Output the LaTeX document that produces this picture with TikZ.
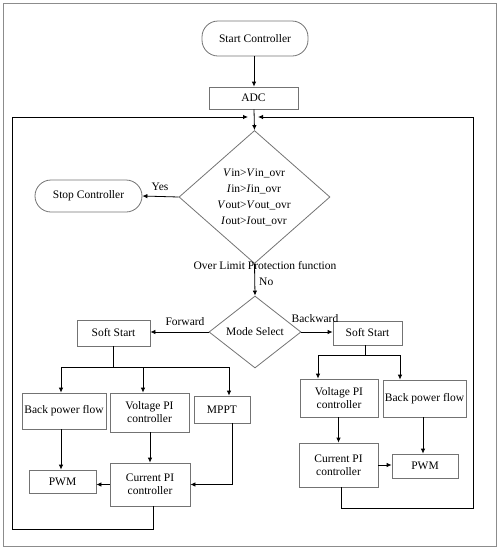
\documentclass[tikz,border=0pt]{standalone}
\usepackage{fontspec}
\setmainfont{Liberation Serif}
\usetikzlibrary{arrows.meta,shapes.geometric}
\begin{document}
\begin{tikzpicture}[x=1pt,y=-1pt,
 every node/.style={font=\fontsize{11.5}{13}\selectfont},
 box/.style={draw=black!55, line width=0.8pt, inner sep=1pt, align=center},
 term/.style={box, rounded corners=16pt},
 dia/.style={diamond, draw=black!55, line width=0.8pt, inner sep=0pt, align=center},
 arr/.style={-{Latex[length=5pt,width=4.5pt]}, line width=0.8pt},
 ln/.style={line width=0.8pt},
 lbl/.style={inner sep=0pt}]

\useasboundingbox (0,0) rectangle (499,550);
\draw[black!45, line width=1pt] (3,3) rectangle (496,546);

% top
\node[term, minimum width=106pt, minimum height=35pt] (start) at (255,38.5) {Start Controller};
\node[box, minimum width=89pt, minimum height=22pt] (adc) at (253.5,98) {ADC};
\node[dia, minimum width=151pt, minimum height=133pt] (prot) at (254.5,197) {};
\node[lbl, align=center, font=\fontsize{11.5}{16}\selectfont] (prottxt) at (254,197)
 {\textit{V}in>\textit{V}in\_ovr\\ \textit{I}in>\textit{I}in\_ovr\\ \textit{V}out>\textit{V}out\_ovr\\ \textit{I}out>\textit{I}out\_ovr};
\node[term, minimum width=107pt, minimum height=32pt] (stop) at (88.5,196) {Stop Controller};
\node[lbl] (yes) at (160,187) {Yes};
\node[lbl] (olp) at (265,266) {Over Limit Protection function};
\node[lbl, anchor=west] (no) at (259,282) {No};

\coordinate (fbL) at (248,117);
\coordinate (fbR) at (258,117);
\coordinate (aj) at (254,117);

\draw[arr] (start.south -| aj) -- (adc.north -| aj);
\draw[arr] (adc.south -| aj) -- (prot.north);
\draw[arr] (prot.west) -- (stop.east);

% mode select
\node[dia, minimum width=92pt, minimum height=72pt] (mode) at (255,332) {Mode Select};
\draw[arr] (prot.south) -- (mode.north);

\node[box, minimum width=73pt, minimum height=26pt] (ssL) at (113.5,333) {Soft Start};
\node[box, minimum width=69pt, minimum height=24pt] (ssR) at (367.5,333) {Soft Start};
\draw[arr] (mode.west) -- (mode.west -| ssL.east);
\draw[arr] (mode.east) -- (mode.east -| ssR.west);
\node[lbl] (fwd) at (185,322) {Forward};
\node[lbl] (bwd) at (315,319) {Backward};

% left branch
\node[box, minimum width=84pt, minimum height=36pt] (bpfL) at (64,411) {Back power flow};
\node[box, minimum width=79pt, minimum height=39pt] (vpiL) at (149.5,412.5) {Voltage PI\\controller};
\node[box, minimum width=56pt, minimum height=27pt] (mppt) at (222,409.5) {MPPT};
\node[box, minimum width=67pt, minimum height=23pt] (pwmL) at (62.5,481.5) {PWM};
\node[box, minimum width=80pt, minimum height=43pt] (cpiL) at (150,484.5) {Current PI\\controller};

\coordinate (jL) at (113,367);
\draw[ln] (ssL.south -| jL) -- (jL);
\draw[arr] (jL) -| ([xshift=-3pt]bpfL.north);
\draw[arr] (jL) -| ([xshift=-6.5pt]vpiL.north);
\draw[arr] (jL) -| ([xshift=7pt]mppt.north);
\draw[arr] ([xshift=-3pt]bpfL.south) -- ([xshift=-1.5pt]pwmL.north);
\draw[arr] (vpiL.south -| cpiL.north) -- (cpiL.north);
\draw[arr] (cpiL.west) -- (cpiL.west -| pwmL.east);
\draw[arr] ([xshift=10pt]mppt.south) |- (cpiL.east);
\coordinate (cL) at (12,529);
\draw[arr] ([xshift=3pt]cpiL.south) |- (cL) |- (fbL);

% right branch
\node[box, minimum width=78pt, minimum height=38pt] (vpiR) at (339,398) {Voltage PI\\controller};
\node[box, minimum width=83pt, minimum height=37pt] (bpfR) at (424.5,398.5) {Back power flow};
\node[box, minimum width=79pt, minimum height=44pt] (cpiR) at (338.5,465) {Current PI\\controller};
\node[box, minimum width=66pt, minimum height=24pt] (pwmR) at (425,466) {PWM};

\coordinate (jR) at (365,355);
\draw[ln] (ssR.south -| jR) -- (jR);
\draw[arr] (jR) -| ([xshift=-21pt]vpiR.north);
\draw[arr] (jR) -| ([xshift=-24.5pt]bpfR.north);
\draw[arr] (vpiR.south -| cpiR.north) -- (cpiR.north);
\draw[arr] ([xshift=-1.5pt]bpfR.south) -- ([xshift=-2pt]pwmR.north);
\draw[arr] (cpiR.east) -- (cpiR.east -| pwmR.west);
\coordinate (cR) at (473,508);
\draw[arr] ([xshift=2.5pt]cpiR.south) |- (cR) |- (fbR);
\end{tikzpicture}
\end{document}
